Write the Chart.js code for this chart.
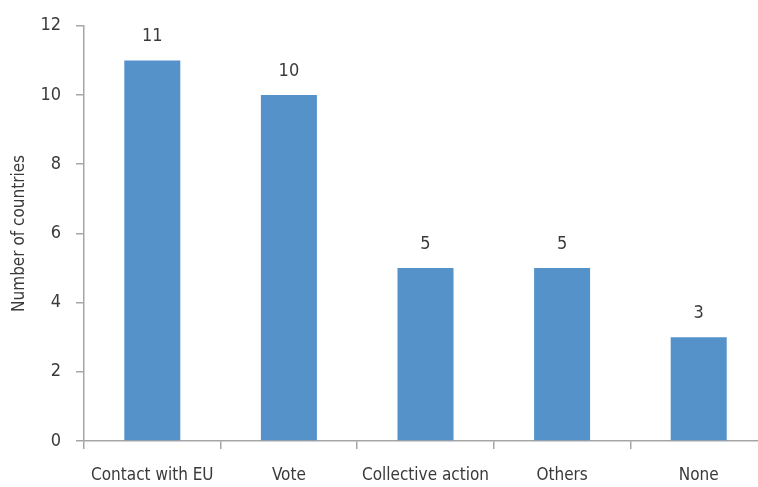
<!DOCTYPE html>
<html>
<head>
<meta charset="utf-8">
<script src="https://cdn.jsdelivr.net/npm/chart.js@4/dist/chart.umd.min.js"></script>
<style>
  html, body { margin: 0; padding: 0; background: #fff; overflow: hidden; }
  #wrap { width: 767px; height: 487px; }
</style>
</head>
<body>
<div id="wrap"><canvas id="c" width="767" height="487"></canvas></div>
<script>
// Participation channels and the number of countries using each
const categories = ['Contact with EU', 'Vote', 'Collective action', 'Others', 'None'];
const countries = [11, 10, 5, 5, 3];
const yTicks = [0, 2, 4, 6, 8, 10, 12];

const FONT = '"Liberation Sans Narrow", "DejaVu Sans Condensed", "Roboto", sans-serif';
const TEXT = '#3a3a3a';
const AXIS = '#a6a6a6';

// Writes each bar's value above it
const valueLabels = {
  id: 'valueLabels',
  afterDatasetsDraw(chart) {
    const { ctx } = chart;
    const meta = chart.getDatasetMeta(0);
    ctx.save();
    ctx.font = '18px ' + FONT;
    ctx.fillStyle = TEXT;
    ctx.textAlign = 'center';
    ctx.textBaseline = 'middle';
    meta.data.forEach((bar, i) => {
      ctx.fillText(String(countries[i]), bar.x, bar.y - 24);
    });
    ctx.restore();
  }
};

new Chart(document.getElementById('c'), {
  type: 'bar',
  data: {
    labels: categories,
    datasets: [{
      data: countries,
      backgroundColor: '#5592C9',
      borderWidth: 0,
      categoryPercentage: 1,
      barPercentage: 0.41
    }]
  },
  options: {
    responsive: false,
    animation: false,
    devicePixelRatio: 1,
    layout: { padding: { top: 24, right: 0, left: 0, bottom: 0 } },
    plugins: { legend: { display: false }, tooltip: { enabled: false } },
    scales: {
      x: {
        offset: true,
        grid: { display: true, drawOnChartArea: false, drawTicks: true, tickLength: 8, color: AXIS, lineWidth: 1.5, offset: true },
        border: { display: true, color: AXIS, width: 1.5 },
        ticks: { color: TEXT, font: { family: FONT, size: 17 }, padding: 16, maxRotation: 0, autoSkip: false },
        afterFit(scale) { scale.height = 46; }
      },
      y: {
        min: 0, max: 12,
        afterBuildTicks(scale) { scale.ticks = yTicks.map(v => ({ value: v })); },
        grid: { display: true, drawOnChartArea: false, drawTicks: true, tickLength: 8, color: AXIS, lineWidth: 1.5 },
        border: { display: true, color: AXIS, width: 1.5 },
        ticks: { color: TEXT, font: { family: FONT, size: 18 }, padding: 15 },
        title: { display: true, text: 'Number of countries', color: TEXT, font: { family: FONT, size: 17 }, padding: { top: 9, bottom: 0 } },
        afterFit(scale) { scale.width = 84; }
      }
    }
  },
  plugins: [valueLabels]
});
</script>
</body>
</html>
